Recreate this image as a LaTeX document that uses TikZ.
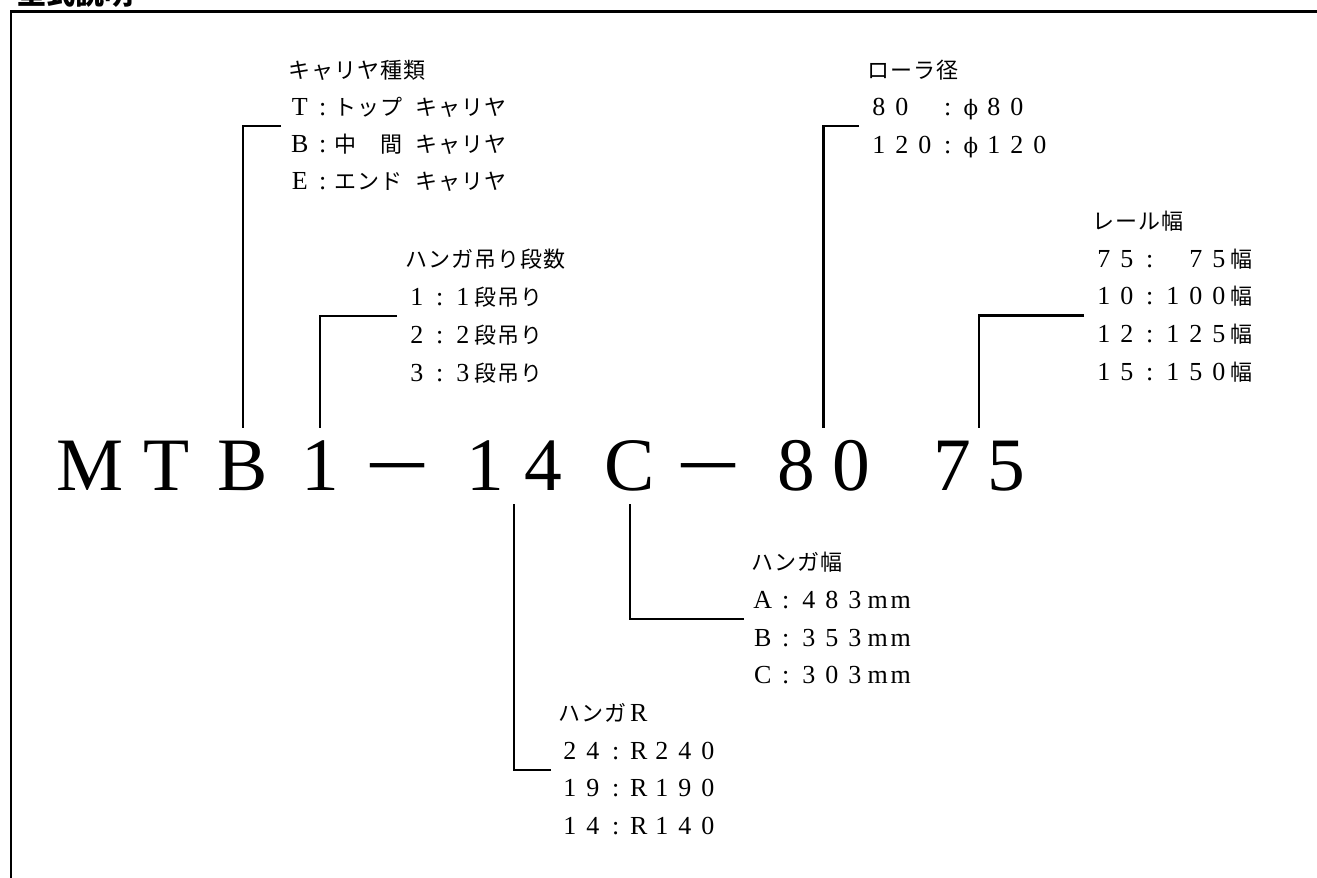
\documentclass[tikz,border=0pt]{standalone}
\usepackage{fontspec}
\usepackage{graphicx}
\setmainfont{Liberation Serif}
\newfontfamily\cjk{Noto Sans CJK JP}
\newfontfamily\dvs{DejaVu Serif}
\usetikzlibrary{calc}
\newlength\pitch
\setlength\pitch{17.25pt}
\def\fwloop#1{\ifx#1\relax\else\makebox[\pitch]{#1}\expandafter\fwloop\fi}
\newcommand\rowL[1]{{\fontsize{19.5pt}{22pt}\selectfont\fwloop#1\relax}}
\newcommand\rowJ[1]{{\cjk\fwloop#1\relax}}
\newcommand\phich{\makebox[\pitch]{\fontsize{16pt}{20pt}\selectfont\dvs ϕ}}
\newcommand\hsp{\hspace*{0.5\pitch}}
\newcommand\labfont{\fontsize{16.5pt}{20pt}\selectfont}
\newcommand\bigfont{\fontsize{56.6pt}{60pt}\selectfont}
\newcommand\bigminus{\scalebox{1.55}[1.15]{−}}
\tikzset{
  lab/.style={anchor=base west, inner sep=0pt, font=\labfont},
  bigch/.style={anchor=base, inner sep=0pt, font=\bigfont, text height=46.5pt, text depth=10.5pt},
  conn/.style={line width=1.8pt},
  frameline/.style={line width=2pt}
}
\begin{document}
\begin{tikzpicture}[x=0.75pt,y=-0.75pt]
\useasboundingbox (0,0) rectangle (1317,878);
% title (cut off at top)
\node[anchor=base west, inner sep=0pt, font=\fontsize{21.75pt}{24pt}\selectfont\cjk\bfseries] (title) at (17,4.5) {型式説明};
% frame
\draw[frameline] (11,900) -- (11,11.7) -- (1330,11.7);

% big model code
\node[bigch] (cM) at (90,490) {M};
\node[bigch] (cT) at (167,490) {T};
\node[bigch] (cB) at (243,490) {B};
\node[bigch] (c1) at (320,490) {1};
\node[bigch] (m1) at (397,494) {\bigminus};
\node[bigch] (r1) at (485,490) {1};
\node[bigch] (r4) at (543,490) {4};
\node[bigch] (cC) at (630,490) {C};
\node[bigch] (m2) at (708,494) {\bigminus};
\node[bigch] (d8) at (796,490) {8};
\node[bigch] (d0) at (851,490) {0};
\node[bigch] (w7) at (952,490) {7};
\node[bigch] (w5) at (1006,490) {5};
\coordinate (g80) at ($(d8.north)!0.5!(d0.north)$);
\coordinate (g75) at ($(w7.north)!0.5!(w5.north)$);
\coordinate (g14) at ($(r1.south)!0.5!(r4.south)$);

% carrier type
\node[lab] (car0) at (288,78) {\rowJ{キャリヤ種類}};
\node[lab] (car1) at (288,115.2) {\rowL{T:}\rowJ{トップ}\hsp\rowJ{キャリヤ}};
\node[lab] (car2) at (288,152.4) {\rowL{B:}\rowJ{中　間}\hsp\rowJ{キャリヤ}};
\node[lab] (car3) at (288,189.6) {\rowL{E:}\rowJ{エンド}\hsp\rowJ{キャリヤ}};
% hanger stages
\node[lab] (stg0) at (405,267) {\rowJ{ハンガ吊り段数}};
\node[lab] (stg1) at (405,305) {\rowL{1:1}\rowJ{段吊り}};
\node[lab] (stg2) at (405,343) {\rowL{2:2}\rowJ{段吊り}};
\node[lab] (stg3) at (405,381) {\rowL{3:3}\rowJ{段吊り}};
% roller diameter
\node[lab] (rol0) at (867,78) {\rowJ{ローラ径}};
\node[lab] (rol1) at (867,115.5) {\rowL{80~:}\phich\rowL{80}};
\node[lab] (rol2) at (867,153) {\rowL{120:}\phich\rowL{120}};
% rail width
\node[lab] (ral0) at (1092,229) {\rowJ{レール幅}};
\node[lab] (ral1) at (1092,267) {\rowL{75:~75}\rowJ{幅}};
\node[lab] (ral2) at (1092,304.7) {\rowL{10:100}\rowJ{幅}};
\node[lab] (ral3) at (1092,342.3) {\rowL{12:125}\rowJ{幅}};
\node[lab] (ral4) at (1092,380) {\rowL{15:150}\rowJ{幅}};
% hanger width
\node[lab] (hw0) at (751,570) {\rowJ{ハンガ幅}};
\node[lab] (hw1) at (751,608) {\rowL{A:483mm}};
\node[lab] (hw2) at (751,646) {\rowL{B:353mm}};
\node[lab] (hw3) at (751,683.5) {\rowL{C:303mm}};
% hanger R
\node[lab] (hr0) at (558,721.3) {\rowJ{ハンガ}\rowL{R}};
\node[lab] (hr1) at (558,759) {\rowL{24:R240}};
\node[lab] (hr2) at (558,796.5) {\rowL{19:R190}};
\node[lab] (hr3) at (558,834.5) {\rowL{14:R140}};

% connector attachment points
\coordinate (kcar) at ($($(car1.base west)!0.5!(car2.base west)$)+(-7,-8)$);
\coordinate (kstg) at ($($(stg1.base west)!0.5!(stg2.base west)$)+(-8,-8)$);
\coordinate (krol) at ($($(rol1.base west)!0.5!(rol2.base west)$)+(-8,-8)$);
\coordinate (kral) at ($($(ral2.base west)!0.5!(ral3.base west)$)+(-8,-8)$);
\coordinate (khw)  at ($($(hw1.base west)!0.5!(hw2.base west)$)+(-7,-8)$);
\coordinate (khr)  at ($($(hr1.base west)!0.5!(hr2.base west)$)+(-7,-8)$);

\draw[conn] (kcar) -| (cB.north);
\draw[conn] (kstg) -| (c1.north);
\draw[conn] (krol) -| (g80);
\draw[conn] (kral) -| (g75);
\draw[conn] (khw) -| (cC.south);
\draw[conn] (khr) -| (g14);
\end{tikzpicture}
\end{document}
